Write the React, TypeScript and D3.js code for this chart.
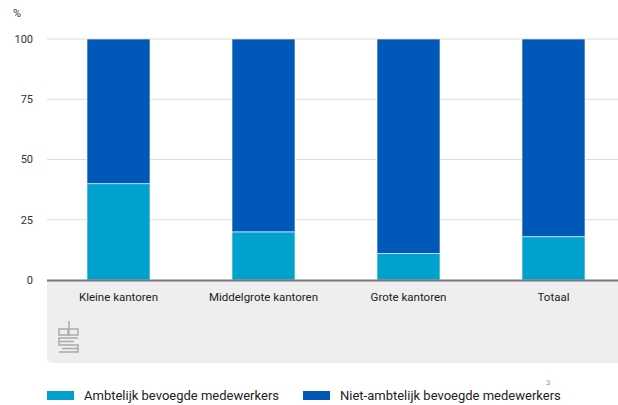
import React from "react";
import * as d3 from "d3";

const categories = ["Kleine kantoren", "Middelgrote kantoren", "Grote kantoren", "Totaal"];
const ambtelijk = [40, 20, 11, 18];
const nietAmbtelijk = [60, 80, 89, 82];
const seriesNames = ["Ambtelijk bevoegde medewerkers", "Niet-ambtelijk bevoegde medewerkers"];
const yTicks = [0, 25, 50, 75, 100];

const W = 618;
const H = 405;
const colors = ["#00a1cd", "#0058b8"];
const font = "Roboto, 'Noto Sans', sans-serif";

export default function App() {
  const x = d3.scaleBand<string>().domain(categories).range([46, 626]).paddingInner(0.5655).paddingOuter(0.2828);
  const y = d3.scaleLinear().domain([0, 100]).range([280, 39]);
  const stackData = categories.map((c, i) => ({ cat: c, a: ambtelijk[i], n: nietAmbtelijk[i] }));
  const stack = d3.stack<any>().keys(["a", "n"])(stackData);

  return (
    <div style={{ position: "fixed", left: 0, top: 0 }}>
      <svg width={W} height={H} style={{ display: "block", background: "#fff" }} fontFamily={font}>
        {/* grey category band */}
        <path d={`M47,281 H${W} V363 H53 Q47,363 47,357 Z`} fill="#eeeeee" />
        {/* gridlines */}
        {yTicks.filter((t) => t > 0).map((t) => (
          <line key={t} x1={47} x2={W} y1={y(t)} y2={y(t)} stroke="#dddddd" strokeWidth={1} />
        ))}
        {/* y tick labels */}
        {yTicks.map((t) => (
          <text key={t} x={33} y={y(t)} dy="0.35em" textAnchor="end" fontSize={11} fill="#333">
            {t}
          </text>
        ))}
        <text x={13} y={17} fontSize={11} fill="#333">%</text>
        {/* bars */}
        {stack.map((s, si) =>
          s.map((d, i) => (
            <rect
              key={`${si}-${i}`}
              x={x(categories[i])!}
              y={y(d[1])}
              width={x.bandwidth()}
              height={y(d[0]) - y(d[1])}
              fill={colors[si]}
              stroke="#ffffff"
              strokeOpacity={0.6}
              strokeWidth={1}
            />
          ))
        )}
        {/* axis line */}
        <line x1={47} x2={W} y1={280.5} y2={280.5} stroke="#777" strokeWidth={2} />
        {/* category labels */}
        {categories.map((c) => (
          <text key={c} x={x(c)! + x.bandwidth() / 2} y={301} textAnchor="middle" fontSize={11.5} fill="#222">
            {c}
          </text>
        ))}
        {/* cbs logo */}
        <g fill="none" stroke="#aaaaaa" strokeWidth={1.5}>
          <rect x={59} y={329} width={9} height={6} />
          <rect x={69} y={329} width={9} height={6} />
          <line x1={69} y1={321} x2={69} y2={329} />
          <path d="M78,338 H59 V345 H78 V352 H59" />
          <path d="M59,341.5 H74 M62,348.5 H78" />
        </g>
        {/* legend */}
        {seriesNames.map((n, i) => {
          const lx = [47, 303][i];
          return (
            <g key={n}>
              <rect x={lx} y={391} width={27} height={9} fill={colors[i]} />
              <text x={lx + 37} y={400} fontSize={13} fill="#222">{n}</text>
            </g>
          );
        })}
        <text x={546} y={385} fontSize={8} fill="#999">3</text>
      </svg>
    </div>
  );
}
